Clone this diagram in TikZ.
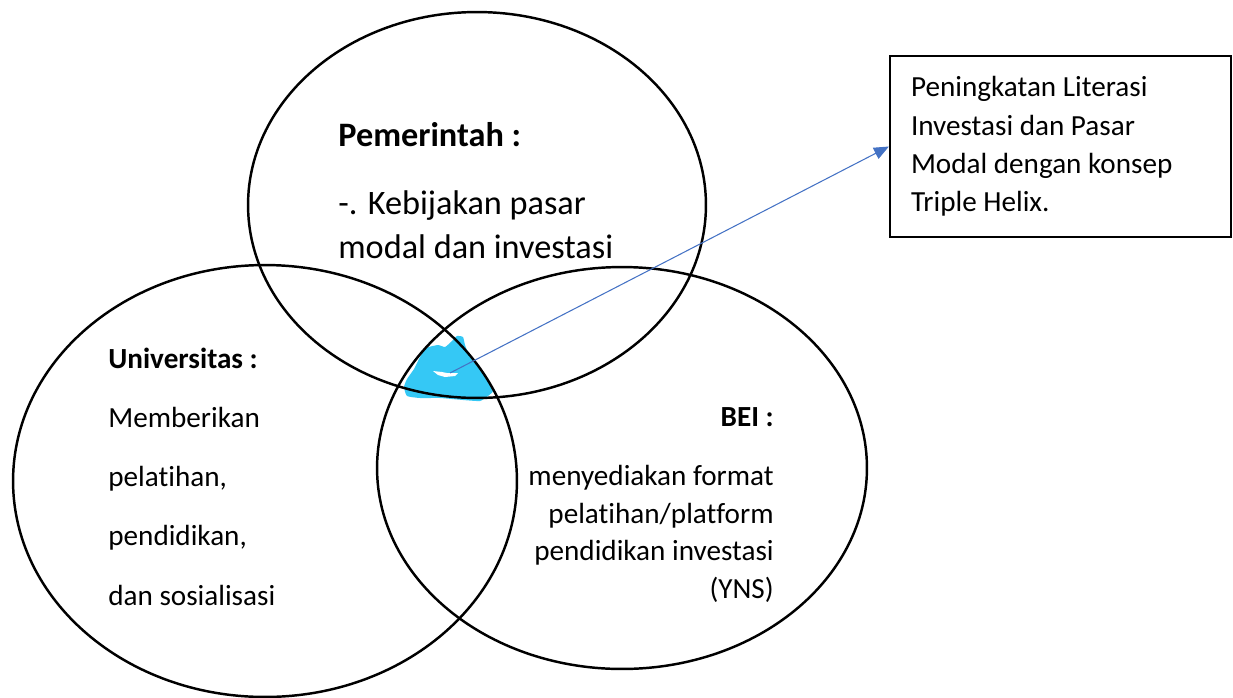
\documentclass[tikz,border=0pt]{standalone}
\usepackage{fontspec}
\setmainfont[Ligatures={NoCommon,NoContextual}]{Carlito}
\usetikzlibrary{arrows.meta, shapes.geometric}
\definecolor{blobcyan}{RGB}{53,200,245}
\definecolor{arrowblue}{RGB}{68,114,196}

\begin{document}
\begin{tikzpicture}[x=0.02cm, y=-0.02cm, >=Latex,
    venn/.style={draw, ellipse, line width=1.4pt, inner sep=0pt},
    label/.style={inner sep=0pt, font=\fontsize{16.6}{21.3}\selectfont},
    infobox/.style={draw, line width=1.3pt, rectangle, inner xsep=0.42cm,
                    text width=5.98cm, minimum height=3.62cm, align=flush left,
                    font=\fontsize{16.6}{21.8}\selectfont},
    linkarrow/.style={draw=arrowblue, line width=0.6pt,
                      -{Triangle[length=8.5pt, width=7pt, fill=arrowblue]}}]
\useasboundingbox (0,0) rectangle (1233,697);

% Spot where the circles meet
\fill[blobcyan] plot[smooth cycle, tension=0.3] coordinates {
    (426,348) (438,345) (445,347) (452,341) (457,336) (463,337)
    (465,345) (470,357) (480,370) (488,382) (493,391) (488,396)
    (480,401) (463,400) (440,398) (420,398) (407,396) (404,387)
    (407,379) (414,369) (420,357)};
\fill[white] (433,371) -- (442,372) -- (447,373) -- (458,373)
    -- (455,376) -- (445,377) -- (438,375) -- cycle;
\coordinate (spot) at (450,373);

% Circles
\node[venn, minimum width=9.16cm, minimum height=7.72cm] (gov) at (477,205) {};
\node[venn, minimum width=10.08cm, minimum height=8.64cm] (uni) at (265,481) {};
\node[venn, minimum width=9.8cm, minimum height=8.04cm] (bei) at (622,468) {};

% Texts
\node[label, anchor=base west, align=flush left,
      font=\fontsize{19.5}{24.5}\selectfont] (govtext) at (338,258)
    {\textbf{Pemerintah :}\\[14.2pt]-. Kebijakan pasar\\modal dan investasi};
\node[label, anchor=base west, align=flush left,
      font=\fontsize{16.6}{33.6}\selectfont] (unitext) at (108,605)
    {\textbf{Universitas :}\\Memberikan\\pelatihan,\\pendidikan,\\dan sosialisasi};
\node[label, anchor=base east, align=flush right] (beitext) at (774,598)
    {\textbf{BEI :}\\[12.2pt]menyediakan format\\pelatihan/platform\\pendidikan investasi\\(YNS)};

% Box
\node[infobox] (litbox) at (1060.5,146.5)
    {Peningkatan Literasi\\Investasi dan Pasar\\Modal dengan konsep\\Triple Helix.};

% Connection
\draw[linkarrow] (spot) -- (litbox.west);

\end{tikzpicture}
\end{document}
